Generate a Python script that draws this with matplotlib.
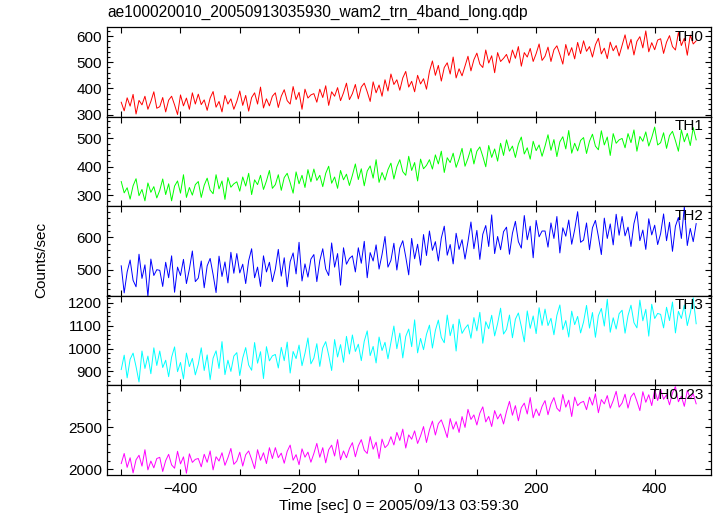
"""
Light curves of the 4 WAM energy bands (TH0..TH3) and their sum
"""
import numpy as np
import matplotlib
matplotlib.use('Agg')
import matplotlib.pyplot as plt
from matplotlib.ticker import MultipleLocator, FuncFormatter

plt.rcParams['font.family'] = ['Liberation Sans', 'DejaVu Sans']
plt.rcParams['font.size'] = 11

# time bins [sec], 5 s step from -500 to 470
t = np.arange(-500, 471, 5)

th0 = [347, 314, 364, 332, 377, 302, 354, 337, 370, 320, 350, 387, 324,
       330, 365, 310, 355, 370, 337, 300, 375, 333, 363, 320, 383, 340,
       378, 338, 356, 316, 363, 388, 328, 350, 310, 373, 340, 360, 320,
       350, 390, 335, 373, 313, 365, 383, 340, 405, 325, 360, 333, 370,
       383, 327, 370, 395, 353, 340, 407, 357, 385, 320, 397, 363, 375,
       380, 347, 397, 365, 410, 335, 387, 370, 403, 353, 383, 420, 357,
       380, 415, 360, 405, 420, 387, 350, 425, 383, 413, 370, 433, 390,
       455, 415, 433, 393, 440, 465, 405, 427, 387, 450, 417, 437, 397,
       465, 505, 450, 488, 428, 480, 498, 455, 520, 440, 475, 448, 485,
       523, 467, 510, 535, 493, 480, 547, 497, 525, 460, 537, 503, 515,
       530, 497, 547, 515, 560, 485, 537, 520, 553, 503, 533, 570, 507,
       523, 558, 503, 548, 563, 530, 493, 568, 526, 556, 513, 576, 533,
       582, 542, 560, 520, 567, 592, 532, 554, 514, 577, 544, 564, 524,
       565, 605, 550, 588, 528, 580, 598, 555, 620, 540, 575, 548, 585,
       590, 534, 577, 602, 560, 547, 614, 564, 592, 527, 604, 570, 582]

th1 = [348, 308, 326, 286, 333, 358, 298, 320, 280, 343, 310, 330, 290,
       317, 357, 302, 340, 280, 332, 350, 307, 372, 292, 327, 300, 337,
       348, 292, 335, 360, 318, 305, 372, 322, 350, 285, 362, 328, 340,
       347, 314, 364, 332, 377, 302, 354, 337, 370, 320, 350, 387, 324,
       337, 372, 317, 362, 377, 344, 307, 382, 340, 370, 327, 390, 347,
       392, 352, 370, 330, 377, 402, 342, 364, 324, 387, 354, 374, 334,
       370, 410, 355, 393, 333, 385, 403, 360, 425, 345, 380, 353, 390,
       413, 357, 400, 425, 383, 370, 437, 387, 415, 350, 427, 393, 405,
       425, 392, 442, 410, 455, 380, 432, 415, 448, 398, 428, 465, 402,
       430, 465, 410, 455, 470, 437, 400, 475, 433, 463, 420, 483, 440,
       495, 455, 473, 433, 480, 505, 445, 467, 427, 490, 457, 477, 437,
       473, 513, 458, 496, 436, 488, 506, 463, 528, 448, 483, 456, 493,
       503, 447, 490, 515, 473, 460, 527, 477, 505, 440, 517, 483, 495,
       500, 467, 517, 485, 530, 455, 507, 490, 523, 473, 503, 540, 477,
       485, 520, 465, 510, 525, 492, 455, 530, 488, 518, 475, 538, 495]

th2 = [512, 428, 493, 530, 467, 447, 548, 473, 515, 417, 533, 482, 500,
       498, 448, 523, 475, 543, 430, 508, 482, 532, 457, 502, 558, 463,
       474, 527, 444, 512, 535, 485, 429, 542, 479, 524, 459, 554, 489,
       550, 490, 517, 457, 528, 565, 475, 508, 448, 543, 493, 523, 463,
       502, 563, 480, 537, 447, 525, 552, 487, 585, 465, 518, 477, 533,
       547, 463, 528, 565, 502, 482, 583, 508, 550, 452, 568, 517, 535,
       543, 493, 568, 520, 588, 475, 553, 527, 577, 502, 547, 603, 508,
       529, 582, 499, 567, 590, 540, 484, 597, 534, 579, 514, 609, 544,
       620, 560, 587, 527, 598, 635, 545, 578, 518, 613, 563, 593, 533,
       587, 648, 565, 622, 532, 610, 637, 572, 670, 550, 603, 562, 618,
       632, 548, 613, 650, 587, 567, 668, 593, 635, 537, 653, 602, 620,
       620, 570, 645, 597, 665, 552, 630, 604, 654, 579, 624, 680, 585,
       592, 645, 562, 630, 653, 603, 547, 660, 597, 642, 577, 672, 607,
       665, 605, 632, 572, 643, 680, 590, 623, 563, 658, 608, 638, 578,
       612, 673, 590, 647, 557, 635, 662, 597, 695, 575, 628, 587, 643]

th3 = [908, 971, 872, 953, 980, 921, 854, 989, 913, 967, 890, 1003, 926,
       989, 917, 949, 877, 962, 1007, 899, 939, 867, 980, 921, 957, 885,
       931, 1003, 904, 972, 864, 958, 990, 913, 1030, 886, 949, 900, 967,
       982, 882, 959, 1004, 928, 905, 1026, 936, 986, 869, 1008, 946, 968,
       974, 915, 1005, 947, 1028, 893, 987, 956, 1015, 925, 979, 1046, 933,
       958, 1021, 922, 1003, 1030, 971, 904, 1039, 963, 1017, 940, 1053, 976,
       1059, 987, 1019, 947, 1032, 1077, 969, 1009, 937, 1050, 991, 1027, 955,
       1026, 1098, 999, 1067, 959, 1053, 1085, 1008, 1125, 981, 1044, 995, 1062,
       1102, 1002, 1079, 1124, 1048, 1025, 1146, 1056, 1106, 989, 1128, 1066, 1088,
       1104, 1045, 1135, 1077, 1158, 1023, 1117, 1086, 1145, 1055, 1109, 1176, 1063,
       1083, 1146, 1047, 1128, 1155, 1096, 1029, 1164, 1088, 1142, 1065, 1178, 1101,
       1172, 1100, 1132, 1060, 1145, 1190, 1082, 1122, 1050, 1163, 1104, 1140, 1068,
       1116, 1188, 1089, 1157, 1049, 1143, 1175, 1098, 1215, 1071, 1134, 1085, 1152,
       1167, 1067, 1144, 1189, 1113, 1090, 1211, 1121, 1171, 1054, 1193, 1131, 1153,
       1149, 1090, 1180, 1122, 1203, 1068, 1162, 1131, 1190, 1100, 1154, 1221, 1108]

th0123 = [2065, 2185, 2020, 2134, 1954, 2110, 2164, 2035, 2230, 1990, 2095, 2014, 2125,
          2139, 1971, 2100, 2175, 2049, 2010, 2211, 2061, 2145, 1950, 2181, 2079, 2115,
          2125, 2026, 2176, 2080, 2215, 1990, 2146, 2095, 2194, 2044, 2134, 2245, 2056,
          2095, 2200, 2035, 2170, 2215, 2116, 2005, 2230, 2104, 2194, 2065, 2254, 2125,
          2255, 2135, 2189, 2069, 2210, 2285, 2105, 2171, 2051, 2240, 2141, 2201, 2081,
          2185, 2305, 2140, 2254, 2074, 2230, 2284, 2155, 2350, 2110, 2215, 2134, 2245,
          2314, 2146, 2275, 2350, 2224, 2185, 2386, 2236, 2320, 2125, 2356, 2254, 2290,
          2385, 2286, 2436, 2340, 2475, 2250, 2406, 2355, 2454, 2304, 2394, 2505, 2316,
          2465, 2570, 2405, 2540, 2585, 2486, 2375, 2600, 2474, 2564, 2435, 2624, 2495,
          2710, 2590, 2644, 2524, 2665, 2740, 2560, 2626, 2506, 2695, 2596, 2656, 2536,
          2685, 2805, 2640, 2754, 2574, 2730, 2784, 2655, 2850, 2610, 2715, 2634, 2745,
          2814, 2646, 2775, 2850, 2724, 2685, 2886, 2736, 2820, 2625, 2856, 2754, 2790,
          2805, 2706, 2856, 2760, 2895, 2670, 2826, 2775, 2874, 2724, 2814, 2925, 2736,
          2785, 2890, 2725, 2860, 2905, 2806, 2695, 2920, 2794, 2884, 2755, 2944, 2815,
          2950, 2830, 2884, 2764, 2905, 2980, 2800, 2866, 2746, 2935, 2836, 2896, 2776]

series = [th0, th1, th2, th3, th0123]
names = ['TH0', 'TH1', 'TH2', 'TH3', 'TH0123']
colors = ['#ff0000', '#00ff00', '#0000ff', '#00ffff', '#ff00ff']
ylims = [(292, 635), (261, 577), (419, 697), (839, 1230), (1929, 2995)]
ymajor = [100, 100, 100, 100, 500]
yminor = [20, 20, 20, 20, 100]

fig, axes = plt.subplots(5, 1, sharex=True, figsize=(7.17, 5.16), dpi=100)
fig.subplots_adjust(left=107 / 717, right=711 / 717, top=1 - 27 / 516,
                    bottom=1 - 475 / 516, hspace=0)

for i, ax in enumerate(axes):
    ax.plot(t, series[i], color=colors[i], lw=0.7)
    ax.set_ylim(ylims[i])
    ax.yaxis.set_major_locator(MultipleLocator(ymajor[i]))
    ax.yaxis.set_minor_locator(MultipleLocator(yminor[i]))
    ax.xaxis.set_major_locator(MultipleLocator(100))
    ax.tick_params(which='both', direction='in', top=True, right=True,
                   width=0.8, labelsize=11)
    ax.tick_params(which='major', length=4.5)
    ax.tick_params(which='minor', length=2.2)
    ax.tick_params(axis='x', pad=5)
    for s in ax.spines.values():
        s.set_linewidth(0.9)
    ax.text(0.988, 0.97, names[i], transform=ax.transAxes, ha='right',
            va='top', fontsize=11)

axes[-1].set_xlim(-524, 495)
axes[-1].xaxis.set_major_formatter(
    FuncFormatter(lambda v, p: ('\u2212%d' % -v if v < 0 else '%d' % v)
                  if round(v) % 200 == 0 else ''))

fig.text(107 / 717, 1 - 12 / 516, 'ae100020010_20050913035930_wam2_trn_4band_long.qdp',
         ha='left', va='center', fontsize=11.2)
fig.text(41 / 717, 1 - 260 / 516, 'Counts/sec', rotation=90, ha='center',
         va='center', fontsize=11)
fig.text(399 / 717, 1 - 506 / 516, 'Time [sec] 0 = 2005/09/13 03:59:30',
         ha='center', va='center', fontsize=11)

plt.savefig('out.png')
